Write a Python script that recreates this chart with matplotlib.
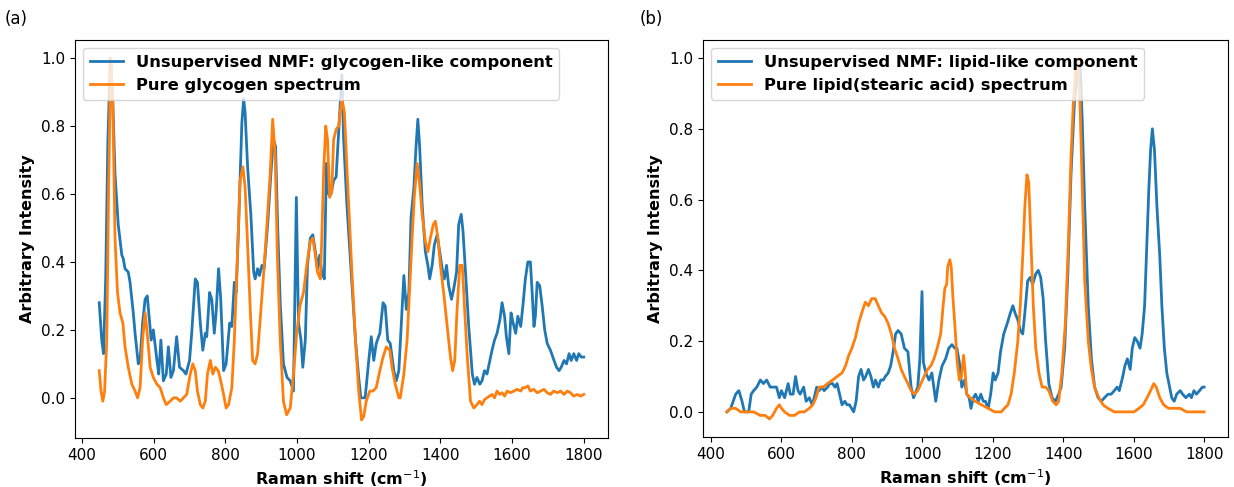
import matplotlib
matplotlib.use("Agg")
import matplotlib.pyplot as plt

# ---- data, (Raman shift, intensity) pairs ----
# panel (a): glycogen
glyco_nmf = [(448, 0.28), (455, 0.17), (460, 0.13), (466, 0.35), (472, 0.75), (479, 1.00), (485, 0.90),
             (492, 0.66), (501, 0.51), (511, 0.42), (515, 0.41), (520, 0.38), (529, 0.37), (534, 0.34),
             (543, 0.25), (548, 0.19), (557, 0.10), (562, 0.11), (569, 0.22), (576, 0.29), (582, 0.30),
             (588, 0.23), (593, 0.17), (599, 0.20), (609, 0.11), (614, 0.07), (620, 0.17), (627, 0.05),
             (635, 0.07), (641, 0.15), (648, 0.06), (655, 0.08), (664, 0.18), (672, 0.09), (683, 0.08),
             (690, 0.07), (700, 0.11), (706, 0.19), (716, 0.35), (722, 0.34), (730, 0.22), (737, 0.14),
             (744, 0.19), (748, 0.18), (756, 0.31), (762, 0.29), (769, 0.19), (774, 0.25), (781, 0.38),
             (787, 0.29), (795, 0.08), (802, 0.10), (812, 0.22), (818, 0.21), (825, 0.34), (830, 0.31),
             (837, 0.51), (846, 0.81), (851, 0.88), (855, 0.84), (862, 0.68), (871, 0.54), (879, 0.37),
             (883, 0.35), (890, 0.38), (895, 0.36), (902, 0.39), (908, 0.38), (918, 0.51), (927, 0.66),
             (934, 0.76), (940, 0.74), (946, 0.50), (953, 0.28), (962, 0.10), (972, 0.06), (981, 0.05),
             (990, 0.02), (998, 0.59), (1004, 0.22), (1011, 0.17), (1016, 0.09), (1023, 0.17),
             (1029, 0.39), (1037, 0.47), (1044, 0.48), (1051, 0.43), (1057, 0.38), (1063, 0.42),
             (1069, 0.37), (1076, 0.35), (1082, 0.69), (1088, 0.60), (1095, 0.60), (1102, 0.64),
             (1109, 0.65), (1116, 0.78), (1125, 0.95), (1130, 0.76), (1139, 0.57), (1151, 0.37),
             (1163, 0.17), (1172, 0.06), (1178, 0.00), (1190, 0.00), (1200, 0.11), (1207, 0.18),
             (1214, 0.11), (1221, 0.16), (1231, 0.19), (1240, 0.28), (1246, 0.27), (1253, 0.17),
             (1260, 0.16), (1270, 0.08), (1277, 0.05), (1284, 0.08), (1290, 0.20), (1298, 0.36),
             (1305, 0.26), (1312, 0.31), (1318, 0.53), (1326, 0.62), (1332, 0.74), (1337, 0.82),
             (1342, 0.74), (1349, 0.57), (1358, 0.43), (1365, 0.39), (1370, 0.35), (1377, 0.39),
             (1383, 0.45), (1391, 0.48), (1398, 0.43), (1405, 0.38), (1411, 0.35), (1417, 0.39),
             (1423, 0.33), (1431, 0.29), (1437, 0.32), (1445, 0.37), (1451, 0.51), (1458, 0.54),
             (1463, 0.49), (1470, 0.37), (1479, 0.21), (1489, 0.07), (1495, 0.04), (1502, 0.06),
             (1510, 0.04), (1516, 0.05), (1523, 0.08), (1530, 0.07), (1538, 0.11), (1544, 0.14),
             (1551, 0.17), (1558, 0.19), (1566, 0.23), (1572, 0.28), (1579, 0.24), (1584, 0.18),
             (1591, 0.13), (1597, 0.25), (1603, 0.22), (1610, 0.19), (1616, 0.24), (1624, 0.21),
             (1631, 0.28), (1637, 0.35), (1644, 0.40), (1651, 0.40), (1656, 0.31), (1661, 0.21),
             (1665, 0.24), (1670, 0.34), (1677, 0.33), (1684, 0.27), (1691, 0.20), (1698, 0.16),
             (1707, 0.14), (1717, 0.11), (1724, 0.09), (1731, 0.08), (1737, 0.09), (1745, 0.11),
             (1752, 0.10), (1759, 0.13), (1765, 0.11), (1772, 0.13), (1780, 0.11), (1786, 0.13),
             (1793, 0.12), (1800, 0.12)]

glyco_pure = [(448, 0.08), (453, 0.02), (458, -0.01), (463, 0.02), (469, 0.17), (474, 0.60), (480, 1.00),
              (486, 0.86), (492, 0.47), (499, 0.31), (506, 0.25), (514, 0.22), (520, 0.15), (529, 0.09),
              (539, 0.04), (548, 0.02), (555, 0.00), (562, 0.03), (569, 0.17), (576, 0.25), (582, 0.19),
              (590, 0.09), (599, 0.06), (609, 0.04), (618, 0.03), (627, 0.00), (635, -0.02), (646, -0.01),
              (655, 0.00), (664, 0.00), (674, -0.01), (683, 0.00), (692, 0.01), (702, 0.07), (709, 0.10),
              (716, 0.08), (722, 0.02), (730, -0.02), (737, -0.03), (744, -0.01), (750, 0.07), (758, 0.11),
              (765, 0.07), (772, 0.09), (780, 0.08), (787, 0.05), (795, 0.01), (802, -0.03), (809, -0.02),
              (818, 0.03), (825, 0.17), (832, 0.37), (841, 0.64), (849, 0.68), (855, 0.62), (862, 0.45),
              (869, 0.27), (876, 0.11), (883, 0.10), (890, 0.13), (897, 0.23), (907, 0.37), (916, 0.51),
              (925, 0.66), (932, 0.82), (939, 0.71), (945, 0.42), (953, 0.17), (962, -0.01), (971, -0.05),
              (981, -0.03), (990, 0.07), (999, 0.19), (1008, 0.27), (1018, 0.31), (1027, 0.39),
              (1037, 0.46), (1044, 0.47), (1051, 0.42), (1057, 0.37), (1065, 0.35), (1069, 0.47),
              (1074, 0.66), (1080, 0.80), (1085, 0.76), (1091, 0.59), (1097, 0.61), (1102, 0.76),
              (1109, 0.79), (1116, 0.80), (1125, 0.88), (1132, 0.84), (1139, 0.68), (1153, 0.37),
              (1163, 0.17), (1172, 0.02), (1180, -0.065), (1186, -0.055), (1193, -0.01), (1203, 0.02),
              (1212, 0.02), (1221, 0.03), (1231, 0.08), (1240, 0.12), (1249, 0.15), (1259, 0.14),
              (1265, 0.09), (1274, 0.04), (1284, 0.00), (1288, 0.00), (1298, 0.07), (1307, 0.17),
              (1314, 0.32), (1321, 0.47), (1327, 0.59), (1335, 0.69), (1342, 0.63), (1349, 0.54),
              (1358, 0.46), (1365, 0.43), (1372, 0.47), (1380, 0.51), (1386, 0.52), (1393, 0.47),
              (1400, 0.39), (1409, 0.31), (1419, 0.21), (1428, 0.12), (1434, 0.08), (1440, 0.11),
              (1446, 0.25), (1454, 0.39), (1461, 0.39), (1467, 0.27), (1475, 0.12), (1484, -0.01),
              (1493, -0.03), (1502, -0.02), (1509, -0.01), (1516, -0.02), (1523, -0.005), (1530, 0.00),
              (1537, 0.005), (1544, 0.01), (1551, 0.00), (1558, 0.02), (1565, 0.01), (1572, 0.015),
              (1579, 0.005), (1586, 0.02), (1595, 0.015), (1605, 0.02), (1614, 0.025), (1624, 0.02),
              (1630, 0.03), (1637, 0.03), (1644, 0.035), (1651, 0.02), (1660, 0.025), (1670, 0.015),
              (1680, 0.02), (1689, 0.025), (1698, 0.015), (1707, 0.01), (1716, 0.02), (1726, 0.015),
              (1735, 0.02), (1745, 0.01), (1754, 0.02), (1763, 0.015), (1772, 0.005), (1782, 0.01),
              (1791, 0.005), (1800, 0.01)]

# panel (b): lipid
lipid_nmf = [(445, 0.00), (456, 0.01), (463, 0.03), (470, 0.05), (479, 0.06), (488, 0.03), (495, 0.00),
             (507, 0.00), (514, 0.05), (521, 0.06), (530, 0.07), (540, 0.09), (549, 0.08), (558, 0.09),
             (568, 0.07), (577, 0.07), (586, 0.07), (594, 0.04), (600, 0.06), (609, 0.04), (619, 0.08),
             (625, 0.05), (633, 0.05), (640, 0.10), (647, 0.06), (653, 0.05), (663, 0.07), (670, 0.03),
             (679, 0.04), (687, 0.02), (693, 0.04), (700, 0.07), (707, 0.06), (715, 0.07), (721, 0.06),
             (731, 0.07), (737, 0.08), (745, 0.08), (752, 0.07), (758, 0.08), (765, 0.05), (772, 0.02),
             (780, 0.03), (786, 0.02), (793, 0.02), (799, 0.01), (805, 0.00), (812, 0.03), (819, 0.10),
             (826, 0.12), (833, 0.09), (839, 0.10), (847, 0.12), (854, 0.10), (861, 0.07), (867, 0.09),
             (875, 0.07), (882, 0.09), (889, 0.09), (895, 0.10), (903, 0.11), (910, 0.13), (917, 0.17),
             (924, 0.22), (931, 0.23), (940, 0.22), (949, 0.18), (959, 0.17), (968, 0.07), (975, 0.04),
             (987, 0.07), (993, 0.15), (999, 0.34), (1003, 0.14), (1010, 0.11), (1019, 0.09),
             (1027, 0.11), (1038, 0.03), (1047, 0.09), (1056, 0.13), (1066, 0.15), (1075, 0.18),
             (1084, 0.19), (1092, 0.18), (1098, 0.18), (1105, 0.14), (1112, 0.07), (1120, 0.09),
             (1126, 0.05), (1133, 0.04), (1138, 0.01), (1145, 0.04), (1151, 0.05), (1159, 0.03),
             (1166, 0.05), (1173, 0.03), (1179, 0.03), (1187, 0.01), (1194, 0.05), (1201, 0.11),
             (1207, 0.09), (1215, 0.11), (1222, 0.17), (1231, 0.22), (1241, 0.25), (1250, 0.28),
             (1257, 0.30), (1263, 0.28), (1271, 0.26), (1278, 0.23), (1285, 0.22), (1291, 0.28),
             (1299, 0.37), (1306, 0.38), (1313, 0.36), (1322, 0.39), (1329, 0.40), (1336, 0.38),
             (1343, 0.32), (1350, 0.20), (1359, 0.08), (1368, 0.04), (1378, 0.03), (1387, 0.05),
             (1394, 0.07), (1404, 0.18), (1413, 0.39), (1422, 0.67), (1432, 0.88), (1441, 0.97),
             (1448, 0.98), (1454, 0.82), (1461, 0.58), (1471, 0.30), (1480, 0.15), (1489, 0.07),
             (1499, 0.04), (1508, 0.03), (1517, 0.04), (1527, 0.05), (1536, 0.05), (1545, 0.06),
             (1553, 0.07), (1559, 0.06), (1569, 0.10), (1575, 0.13), (1582, 0.15), (1590, 0.12),
             (1596, 0.18), (1603, 0.21), (1610, 0.20), (1618, 0.18), (1624, 0.22), (1631, 0.30),
             (1636, 0.44), (1643, 0.63), (1648, 0.74), (1653, 0.80), (1659, 0.74), (1666, 0.58),
             (1674, 0.44), (1680, 0.30), (1687, 0.18), (1694, 0.11), (1702, 0.07), (1708, 0.04),
             (1715, 0.03), (1722, 0.05), (1732, 0.06), (1739, 0.05), (1748, 0.04), (1758, 0.05),
             (1764, 0.04), (1771, 0.06), (1778, 0.05), (1787, 0.06), (1795, 0.07), (1800, 0.07)]

lipid_pure = [(445, 0.00), (456, 0.01), (470, 0.01), (484, 0.00), (502, 0.00), (521, 0.00), (540, -0.01),
              (554, -0.01), (566, -0.02), (575, -0.01), (586, 0.01), (594, 0.02), (600, 0.01), (609, 0.00),
              (623, -0.01), (637, -0.01), (651, 0.00), (665, 0.00), (679, 0.01), (689, 0.02), (698, 0.04),
              (707, 0.07), (718, 0.07), (731, 0.08), (745, 0.09), (758, 0.10), (772, 0.11), (782, 0.13),
              (791, 0.16), (800, 0.18), (810, 0.21), (819, 0.25), (828, 0.28), (838, 0.31), (847, 0.30),
              (856, 0.32), (866, 0.32), (875, 0.30), (884, 0.28), (893, 0.27), (903, 0.25), (912, 0.22),
              (921, 0.18), (931, 0.15), (940, 0.12), (949, 0.10), (959, 0.08), (968, 0.06), (977, 0.05),
              (987, 0.06), (996, 0.08), (1005, 0.10), (1015, 0.12), (1024, 0.13), (1033, 0.15),
              (1042, 0.18), (1052, 0.22), (1059, 0.30), (1064, 0.35), (1069, 0.36), (1072, 0.41),
              (1078, 0.43), (1082, 0.41), (1087, 0.32), (1094, 0.22), (1098, 0.15), (1105, 0.09),
              (1111, 0.10), (1117, 0.16), (1121, 0.12), (1126, 0.05), (1136, 0.04), (1150, 0.03),
              (1168, 0.02), (1187, 0.01), (1205, 0.00), (1224, 0.00), (1233, 0.01), (1243, 0.02),
              (1252, 0.05), (1261, 0.11), (1271, 0.20), (1278, 0.30), (1285, 0.44), (1291, 0.58),
              (1297, 0.67), (1302, 0.65), (1308, 0.49), (1315, 0.30), (1322, 0.18), (1331, 0.11),
              (1340, 0.07), (1350, 0.07), (1359, 0.06), (1370, 0.03), (1380, 0.02), (1387, 0.03),
              (1396, 0.11), (1406, 0.25), (1415, 0.49), (1422, 0.72), (1429, 0.88), (1435, 0.97),
              (1441, 1.00), (1448, 0.86), (1454, 0.63), (1461, 0.37), (1471, 0.20), (1480, 0.12),
              (1489, 0.07), (1501, 0.04), (1513, 0.02), (1527, 0.01), (1545, 0.00), (1564, 0.00),
              (1582, 0.00), (1601, 0.00), (1615, 0.01), (1627, 0.02), (1638, 0.04), (1648, 0.06),
              (1657, 0.08), (1664, 0.07), (1674, 0.04), (1685, 0.02), (1699, 0.01), (1713, 0.01),
              (1732, 0.01), (1750, 0.00), (1769, 0.00), (1787, 0.00), (1800, 0.00)]

labels_a = ["Unsupervised NMF: glycogen-like component", "Pure glycogen spectrum"]
labels_b = ["Unsupervised NMF: lipid-like component", "Pure lipid(stearic acid) spectrum"]

blue = "#1f77b4"
orange = "#ff7f0e"


def xy(pairs):
    return [p[0] for p in pairs], [p[1] for p in pairs]


fig = plt.figure(figsize=(12.34, 4.87), dpi=100)
ax_a = fig.add_axes([75 / 1234, 1 - 438 / 487, 533 / 1234, 398 / 487])
ax_b = fig.add_axes([703 / 1234, 1 - 437 / 487, 525 / 1234, 397 / 487])

ax_a.plot(*xy(glyco_nmf), color=blue, lw=2.0, label=labels_a[0])
ax_a.plot(*xy(glyco_pure), color=orange, lw=2.0, label=labels_a[1])
ax_b.plot(*xy(lipid_nmf), color=blue, lw=2.0, label=labels_b[0])
ax_b.plot(*xy(lipid_pure), color=orange, lw=2.0, label=labels_b[1])

for ax in (ax_a, ax_b):
    ax.set_xticks(range(400, 1801, 200))
    ax.set_yticks([0.0, 0.2, 0.4, 0.6, 0.8, 1.0])
    ax.tick_params(labelsize=11)
    ax.set_xlabel(r"Raman shift (cm$^{-1}$)", fontsize=11.5, fontweight="bold")
    ax.set_ylabel("Arbitrary Intensity", fontsize=11.5, fontweight="bold")
    ax.legend(loc="upper left", prop={"weight": "bold", "size": 11.8}, handlelength=2.0)

fig.text(5 / 1234, 1 - 19 / 487, "(a)", fontsize=12, va="center")
fig.text(640 / 1234, 1 - 19 / 487, "(b)", fontsize=12, va="center")

fig.savefig("out.png", dpi=100)
